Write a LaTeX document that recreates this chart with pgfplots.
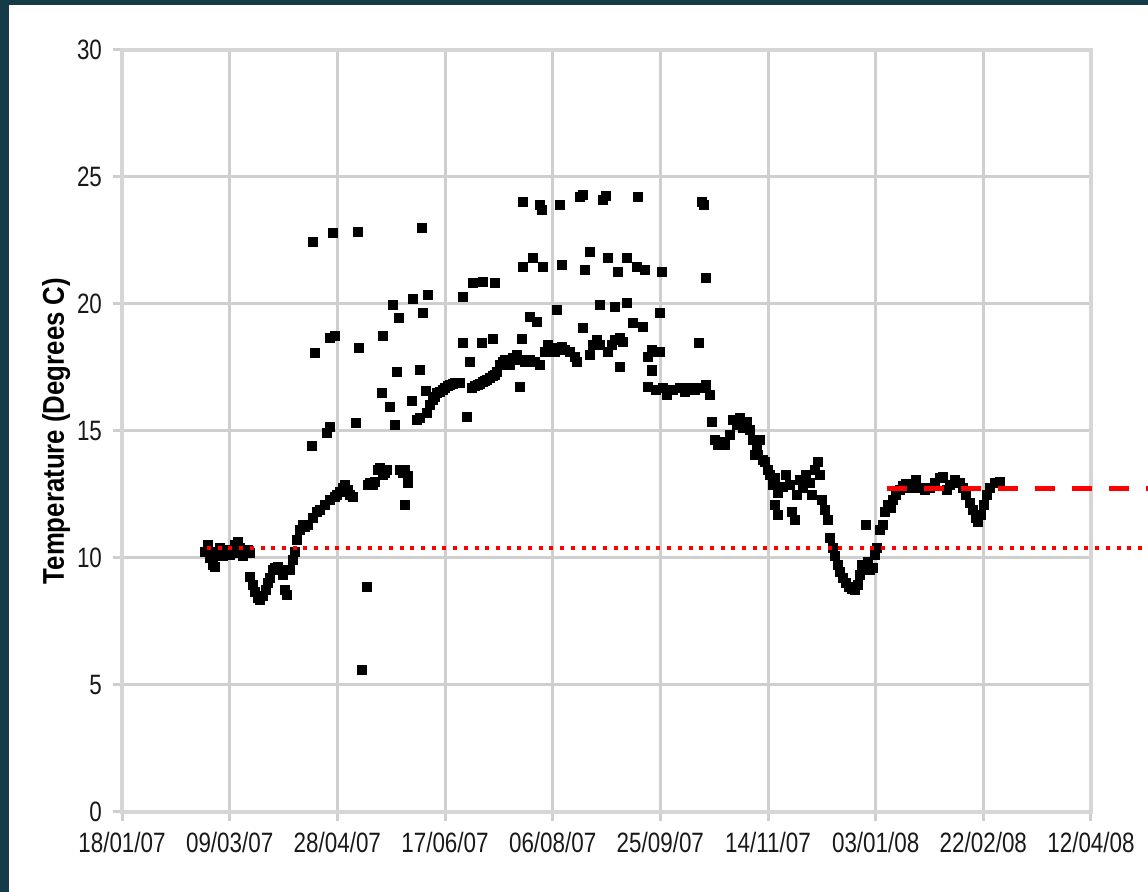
\documentclass[border=0pt]{standalone}
\usepackage{pgfplots}
\pgfplotsset{compat=1.18}
\usepackage{fontspec}
\setmainfont{Liberation Sans}[FakeStretch=0.8]
\newfontfamily\labelfont{Liberation Sans}[FakeStretch=0.86]
\definecolor{frameteal}{RGB}{22,59,72}
\definecolor{gridgray}{RGB}{207,207,207}
\definecolor{axisgray}{RGB}{214,214,214}
\definecolor{ticktext}{RGB}{25,25,25}
\begin{document}
\begin{tikzpicture}
\useasboundingbox (0,0) rectangle (574pt,446pt);
\fill[frameteal] (0,0) rectangle (574pt,446pt);
\fill[white] (4.5pt,0) rectangle (574pt,443.5pt);
\begin{axis}[
  at={(61pt,40pt)}, anchor=south west,
  scale only axis, width=484.5pt, height=381pt,
  xmin=0, xmax=450, ymin=0, ymax=30,
  clip=false,
  xtick={0,50,...,450},
  xticklabels={18/01/07,09/03/07,28/04/07,17/06/07,06/08/07,25/09/07,14/11/07,03/01/08,22/02/08,12/04/08},
  ytick={0,5,...,30},
  grid=major,
  major grid style={gridgray, line width=1.5pt},
  axis line style={axisgray, line width=2pt},
  tick align=outside, tick pos=left,
  major tick length=4.5pt,
  major tick style={gridgray, line width=1.5pt},
  /pgf/number format/assume math mode=true,
  tick label style={font=\fontsize{14}{16}\selectfont, text=ticktext},
  yticklabel style={xshift=-2pt},
  xticklabel style={yshift=-2pt},
  ylabel={Temperature (Degrees C)},
  ylabel style={font=\labelfont\bfseries\fontsize{15}{17}\selectfont, at={(axis description cs:-0.068,0.5)}, anchor=center},
]
\addplot[only marks, mark=square*, mark size=2.25pt, black] table {
x y
38.5 10.24
39.9 10.51
40.9 10.00
42.3 9.72
43.2 10.12
43.2 9.65
44.6 10.24
45.5 10.39
46.9 10.08
47.8 10.24
49.2 10.31
50.2 10.12
51.5 10.20
52.5 10.51
53.9 10.63
54.8 10.39
56.2 10.08
57.1 10.24
58.5 10.31
59.4 10.20
59.4 9.25
60.8 8.94
61.8 8.66
63.2 8.43
64.1 8.35
65.5 8.50
66.9 8.74
67.8 9.02
68.7 9.21
70.1 9.53
71.1 9.61
72.4 9.65
73.4 9.53
74.8 9.33
75.7 8.74
76.6 8.54
78.0 9.53
79.4 9.92
80.3 10.24
81.3 10.71
82.7 11.10
84.1 11.30
85.0 11.22
86.4 11.30
88.7 11.57
90.6 11.81
92.0 11.89
94.3 12.09
96.6 12.28
98.9 12.40
99.8 12.48
101.2 12.60
102.6 12.76
103.6 12.87
105.0 12.68
105.9 12.48
107.3 12.40
114.2 12.87
115.2 12.95
116.6 12.87
117.5 12.99
118.9 13.46
119.8 13.54
121.2 13.27
122.1 13.35
123.1 13.46
129.1 13.46
130.5 13.35
131.4 13.46
132.8 13.23
132.8 12.95
131.4 12.09
137.0 15.43
138.4 15.51
141.6 15.71
143.0 16.02
144.4 16.22
145.4 16.34
146.3 16.50
147.7 16.54
149.1 16.61
150.0 16.69
151.4 16.77
152.3 16.81
153.7 16.85
154.6 16.89
155.6 16.89
157.0 16.89
162.5 16.69
163.9 16.77
165.3 16.81
166.3 16.85
167.6 16.93
168.6 16.97
169.5 17.01
170.9 17.09
172.3 17.17
173.2 17.20
174.2 17.32
175.5 17.60
176.9 17.72
177.9 17.80
179.3 17.72
180.2 17.60
181.6 17.87
183.4 17.99
184.8 17.80
187.2 17.72
189.5 17.80
191.8 17.72
194.1 17.60
196.4 18.11
197.8 18.39
199.7 18.27
201.1 18.11
202.5 18.19
204.3 18.31
205.7 18.19
208.1 18.11
210.4 17.91
211.3 17.72
217.3 17.99
218.7 18.39
220.6 18.58
222.0 18.39
225.7 18.11
227.6 18.39
228.9 18.58
231.3 18.66
232.7 18.50
244.3 17.91
246.1 18.19
249.8 18.11
246.1 17.40
244.3 16.73
248.0 16.61
251.2 16.69
253.1 16.42
255.9 16.61
259.1 16.69
261.5 16.54
263.8 16.69
266.1 16.61
268.4 16.69
271.2 16.81
273.1 16.42
274.0 15.35
275.4 14.65
276.8 14.45
277.7 14.57
280.0 14.45
282.4 14.84
283.7 15.43
285.6 15.24
287.0 15.51
288.4 15.12
290.3 15.35
291.6 15.04
293.0 14.65
294.9 14.45
296.3 14.65
295.4 14.06
294.0 14.06
297.7 13.86
298.6 13.78
300.0 13.46
300.9 13.27
302.3 12.87
303.3 13.15
304.6 12.56
303.3 12.09
304.6 11.69
307.0 12.80
308.4 13.27
310.2 12.87
311.1 11.81
312.5 11.50
313.5 12.48
314.9 13.07
316.3 12.76
317.7 13.27
319.5 12.95
320.4 12.48
321.8 13.46
323.2 13.78
324.2 13.27
325.1 12.28
326.5 11.89
327.9 11.50
328.8 10.79
330.2 10.39
331.1 10.08
332.5 9.72
333.5 9.45
334.8 9.21
336.2 9.02
337.6 8.86
339.0 8.78
340.4 8.74
341.8 8.94
342.7 9.33
343.7 9.72
345.0 9.61
346.4 9.84
347.4 9.53
348.8 9.61
349.7 10.12
350.6 10.39
345.5 11.30
352.0 11.10
353.4 11.30
354.3 11.81
355.7 12.09
357.1 11.97
358.1 12.28
359.4 12.48
361.3 12.68
362.7 12.83
364.1 12.91
365.9 12.76
367.3 12.91
368.7 13.07
370.6 12.76
372.9 12.68
375.2 12.76
377.6 12.95
379.9 13.15
381.3 13.19
383.1 12.68
384.5 12.87
386.8 13.07
389.2 12.95
390.6 12.76
392.0 12.48
393.8 12.17
395.2 11.89
396.6 11.57
397.5 11.42
398.9 11.69
400.3 12.09
401.7 12.48
403.1 12.76
405.4 12.95
407.7 12.99
88.2 14.41
95.2 14.92
96.6 15.16
108.7 15.31
89.6 18.07
96.6 18.66
98.9 18.74
110.1 18.27
88.7 22.44
98.0 22.80
109.6 22.83
113.8 8.86
111.5 5.59
120.7 16.50
124.5 15.94
121.2 18.74
125.9 19.96
128.6 19.45
127.7 17.32
126.8 15.24
134.7 16.18
135.1 20.20
138.4 17.40
139.3 22.99
139.8 19.65
141.2 16.57
142.1 20.35
158.4 20.28
158.4 18.46
161.6 17.72
160.2 15.55
163.0 20.83
167.2 18.46
167.6 20.87
172.3 18.62
173.2 20.83
184.8 16.73
185.8 18.62
186.2 24.02
186.2 21.46
189.5 19.49
190.9 21.81
192.7 19.29
194.1 23.90
195.0 23.70
195.5 21.46
202.0 19.76
203.4 23.90
204.3 21.54
212.7 24.21
214.1 24.29
215.0 21.34
214.1 19.06
217.3 22.05
222.0 19.96
223.4 24.09
224.8 24.25
225.7 21.81
228.9 19.88
230.3 21.26
231.3 17.52
234.5 21.81
234.5 20.04
237.3 19.25
239.2 21.46
239.6 24.21
242.0 19.09
242.9 21.34
248.0 18.11
249.8 19.65
250.8 21.26
268.0 18.46
269.4 24.02
270.3 23.90
271.2 21.02
246.1 17.36
};
\end{axis}
\begin{axis}[
  at={(61pt,40pt)}, anchor=south west,
  scale only axis, width=484.5pt, height=381pt,
  xmin=0, xmax=450, ymin=0, ymax=30,
  clip=false, hide axis,
]
\addplot[red, line width=2pt, dash pattern=on 2pt off 3.35pt] coordinates {(39.5,10.39) (476.5,10.39)};
\addplot[red, line width=2.5pt, dash pattern=on 10pt off 8.5pt] coordinates {(355.3,12.72) (476.5,12.72)};
\end{axis}
\end{tikzpicture}
\end{document}
